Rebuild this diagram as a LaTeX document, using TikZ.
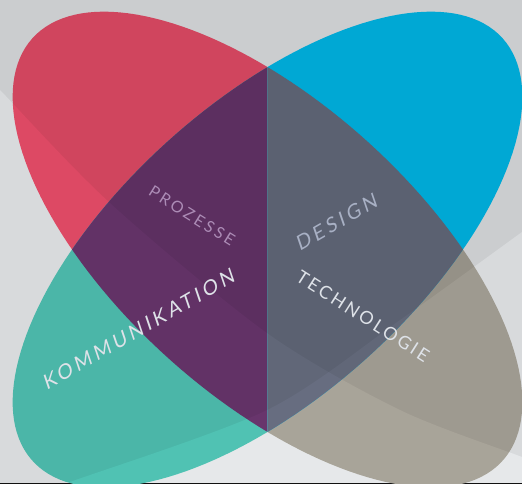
\documentclass[tikz,border=0pt]{standalone}
\usepackage{fontspec}
\setmainfont{Lato}
\newfontfamily\lblfont[LetterSpace=18]{Lato}
\newfontfamily\lbltightfont[LetterSpace=15]{Lato}
\definecolor{bgc}{RGB}{203,205,207}
\definecolor{redc}{RGB}{208,69,94}
\definecolor{bluec}{RGB}{0,168,212}
\definecolor{tealc}{RGB}{71,171,158}
\definecolor{greyc}{RGB}{149,145,135}
\definecolor{purplec}{RGB}{92,47,96}
\definecolor{slatec}{RGB}{91,97,113}
\definecolor{dodgec}{RGB}{16,16,16}
\definecolor{txtpro}{RGB}{172,140,182}
\definecolor{txtdes}{RGB}{168,176,196}
\definecolor{txtlight}{RGB}{222,226,232}
\tikzset{
  lbl/.style={inner sep=0pt, anchor=center},
}
\newcommand\lobeA{plot[domain=0:360,samples=160,variable=\t]
  ({267.5-230.9*cos(\t)+107.9*sin(\t)},{249.5-215.5*cos(\t)-100.7*sin(\t)}) -- cycle}
\newcommand\lobeB{plot[domain=0:360,samples=160,variable=\t]
  ({267.5+230.9*cos(\t)-107.9*sin(\t)},{249.5-215.5*cos(\t)-100.7*sin(\t)}) -- cycle}
\begin{document}
\begin{tikzpicture}[x=0.75pt,y=-0.75pt]
\useasboundingbox (0,0) rectangle (522,483);
\clip (0,0) rectangle (522,483);
\fill[bgc] (0,0) rectangle (522,483);
% left halves
\begin{scope}
  \clip (-20,-20) rectangle (267.5,520);
  \fill[redc] \lobeA;
  \fill[tealc] \lobeB;
  \clip \lobeA;
  \fill[purplec] \lobeB;
\end{scope}
% right halves
\begin{scope}
  \clip (267.5,-20) rectangle (560,520);
  \fill[greyc] \lobeA;
  \fill[bluec] \lobeB;
  \clip \lobeA;
  \fill[slatec] \lobeB;
\end{scope}
% light overlays
\begin{scope}[blend mode=color dodge]
  \fill[dodgec] plot[smooth] coordinates {(-20,70) (0,90) (110,203) (267,333) (400,410) (522,457) (560,472)}
     -- (560,520) -- (-20,520) -- cycle;
  \fill[dodgec] plot[smooth] coordinates {(560,205) (522,232) (400,320) (267,410) (67,483) (20,500)}
     -- (20,520) -- (560,520) -- cycle;
\end{scope}
% labels
\node[lbl, font=\lblfont\fontsize{12pt}{14pt}\selectfont, text=txtpro, rotate=-32] (pro) at (192,216) {PROZESSE};
\node[lbl, font=\lblfont\fontsize{15pt}{17pt}\selectfont, text=txtdes, rotate=30, xslant=0.2] (des) at (337,222) {DESIGN};
\node[lbl, font=\lbltightfont\fontsize{13.5pt}{16pt}\selectfont, text=txtlight, rotate=-32.5] (tec) at (363,316) {TECHNOLOGIE};
\node[lbl, font=\lblfont\fontsize{15pt}{17pt}\selectfont, text=txtlight, rotate=30, xslant=0.2] (kom) at (139,329) {KOMMUNIKATION};
\end{tikzpicture}
\end{document}
